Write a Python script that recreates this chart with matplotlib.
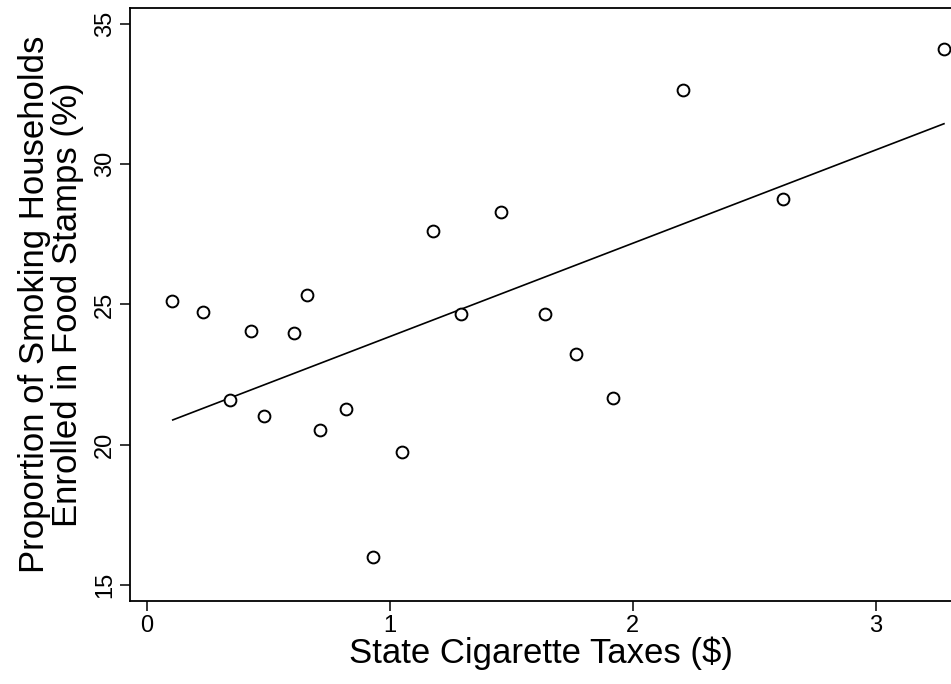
import numpy as np
import matplotlib
matplotlib.use('Agg')
import matplotlib.pyplot as plt

# state cigarette tax ($) vs share of smoking households on food stamps (%)
tax = [0.104, 0.231, 0.344, 0.430, 0.484, 0.607, 0.661, 0.711, 0.821, 0.933,
       1.049, 1.180, 1.292, 1.456, 1.640, 1.768, 1.920, 2.208, 2.619, 3.281]
food_stamps = [25.12, 24.73, 21.58, 24.04, 21.02, 23.98, 25.35, 20.51, 21.26, 15.98,
               19.73, 27.62, 24.66, 28.30, 24.67, 23.22, 21.67, 32.65, 28.76, 34.11]

# fitted line at both ends
fit_x = [0.107, 3.281]
fit_y = [20.88, 31.45]

x_ticks = [0, 1, 2, 3]
y_ticks = [15, 20, 25, 30, 35]

plt.rcParams['font.family'] = ['Liberation Sans', 'DejaVu Sans']

fig = plt.figure(figsize=(9.51, 6.84), dpi=100)
ax = fig.add_axes([0.1367, 0.1218, 0.8633, 0.8665])

ax.plot(tax, food_stamps, 'o', ms=8.5, mfc='white', mec='black', mew=1.4, zorder=3)
ax.plot(fit_x, fit_y, color='black', lw=1.2)

ax.set_xlim(-0.069, 3.31)
ax.set_ylim(14.43, 35.58)
ax.set_xticks(x_ticks)
ax.set_yticks(y_ticks)
ax.set_xticklabels([str(t) for t in x_ticks])
ax.set_yticklabels([str(t) for t in y_ticks], rotation=90, va='center')

ax.spines['right'].set_visible(False)
for s in ['left', 'bottom', 'top']:
    ax.spines[s].set_linewidth(1.3)
ax.tick_params(axis='both', direction='out', length=7, width=1.1,
               labelsize=17, pad=3)

ax.set_xlabel("State Cigarette Taxes ($)", fontsize=25, labelpad=0)
ax.set_ylabel("Proportion of Smoking Households\nEnrolled in Food Stamps (%)",
              fontsize=25, labelpad=7.5, linespacing=1.0)

fig.savefig("out.png", dpi=100)
